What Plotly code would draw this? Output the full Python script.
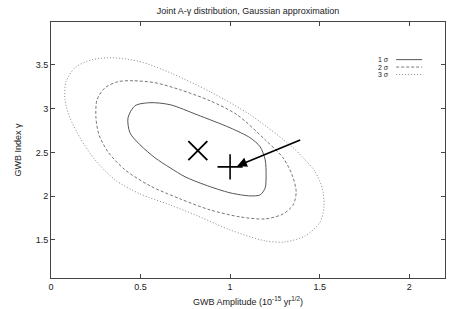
import plotly.graph_objects as go

# ---- data ----
sig1_x = [0.553, 0.665, 0.816, 1.000, 1.112, 1.168, 1.196, 1.201, 1.196, 1.168, 1.112, 1.000, 0.860, 0.749, 0.665, 0.581, 0.497, 0.441, 0.430, 0.469, 0.553]
sig1_y = [3.068, 3.045, 2.930, 2.781, 2.667, 2.564, 2.415, 2.244, 2.095, 2.015, 2.003, 2.038, 2.129, 2.221, 2.324, 2.438, 2.587, 2.724, 2.896, 3.033, 3.068]

sig2_x = [0.458, 0.581, 0.721, 0.888, 1.039, 1.196, 1.296, 1.346, 1.369, 1.352, 1.296, 1.196, 1.056, 0.888, 0.721, 0.553, 0.413, 0.318, 0.268, 0.251, 0.257, 0.302, 0.374, 0.458]
sig2_y = [3.319, 3.296, 3.216, 3.090, 2.930, 2.644, 2.438, 2.244, 2.049, 1.900, 1.797, 1.740, 1.763, 1.843, 1.969, 2.118, 2.301, 2.507, 2.701, 2.896, 3.102, 3.239, 3.308, 3.319]

sig3_x = [0.346, 0.497, 0.665, 0.888, 1.112, 1.346, 1.419, 1.475, 1.514, 1.525, 1.503, 1.419, 1.307, 1.196, 1.000, 0.832, 0.665, 0.497, 0.358, 0.246, 0.162, 0.106, 0.078, 0.084, 0.134, 0.229, 0.346]
sig3_y = [3.582, 3.537, 3.411, 3.193, 2.930, 2.564, 2.415, 2.278, 2.095, 1.900, 1.706, 1.546, 1.477, 1.489, 1.614, 1.763, 1.900, 2.026, 2.186, 2.415, 2.667, 2.896, 3.102, 3.308, 3.468, 3.559, 3.582]

max_like = (0.82, 2.52)       # "X" marker
true_val = (1.00, 2.335)      # "+" marker
arrow_from = (1.40, 2.65)
arrow_to = (1.04, 2.345)

legend_labels = ["1 σ", "2 σ", "3 σ"]
x_ticks = [0, 0.5, 1, 1.5, 2]
y_ticks = [1.5, 2, 2.5, 3, 3.5]

FONT = "Liberation Sans, Arial, sans-serif"
styles = [dict(color="#555555", width=1, dash="solid"),
          dict(color="#777777", width=1, dash="3px,2px"),
          dict(color="#888888", width=1, dash="1px,2px")]

fig = go.Figure()
for xs, ys, st, name in zip([sig1_x, sig2_x, sig3_x], [sig1_y, sig2_y, sig3_y], styles, legend_labels):
    fig.add_trace(go.Scatter(x=xs, y=ys, mode="lines", line=dict(shape="spline", smoothing=0.8, **st),
                             name=name, showlegend=False, hoverinfo="skip"))

fig.add_trace(go.Scatter(x=[max_like[0]], y=[max_like[1]], mode="markers", showlegend=False,
                         marker=dict(symbol="x-thin", size=19, line=dict(color="black", width=1.8))))
fig.add_trace(go.Scatter(x=[true_val[0]], y=[true_val[1]], mode="markers", showlegend=False,
                         marker=dict(symbol="cross-thin", size=18, line=dict(color="black", width=1.6))))

fig.add_annotation(x=arrow_to[0], y=arrow_to[1], ax=arrow_from[0], ay=arrow_from[1],
                   xref="x", yref="y", axref="x", ayref="y", text="", showarrow=True,
                   arrowhead=2, arrowsize=1.2, arrowwidth=1.6, arrowcolor="black")

# manual gnuplot-style key: text on the left, line sample on the right
rows_y = [0.853, 0.824, 0.795]
for lab, st, yy in zip(legend_labels, styles, rows_y):
    fig.add_annotation(x=0.862, y=yy, xref="paper", yref="paper", text=lab, showarrow=False,
                       xanchor="right", yanchor="middle", font=dict(family=FONT, size=7, color="#222222"))
    fig.add_shape(type="line", xref="paper", yref="paper", x0=0.876, x1=0.942, y0=yy, y1=yy,
                  line=dict(color=st["color"], width=1, dash=st["dash"]))

fig.update_layout(
    width=450, height=309,
    margin=dict(l=51, r=5, t=22, b=31),
    paper_bgcolor="white", plot_bgcolor="white",
    font=dict(family=FONT, size=9, color="#222222"),
    title=dict(text="Joint A-γ distribution, Gaussian approximation", x=0.551, xanchor="center",
               y=0.965, yanchor="middle", font=dict(family=FONT, size=9, color="#222222")),
    xaxis=dict(range=[0, 2.2], tickvals=x_ticks, ticktext=[str(v) for v in x_ticks],
               ticks="inside", ticklen=4, tickcolor="#444444", mirror="ticks", showline=True,
               linecolor="#444444", linewidth=1, showgrid=False, zeroline=False,
               tickfont=dict(size=9), title=dict(text="GWB Amplitude (10<sup>-15</sup> yr<sup>1/2</sup>)",
                                                 font=dict(size=9), standoff=7)),
    yaxis=dict(range=[1.065, 3.99], tickvals=y_ticks, ticktext=[str(v) for v in y_ticks],
               ticks="inside", ticklen=4, tickcolor="#444444", mirror="ticks", showline=True,
               linecolor="#444444", linewidth=1, showgrid=False, zeroline=False,
               tickfont=dict(size=9), title=dict(text="GWB Index γ", font=dict(size=9), standoff=12)),
)
fig.write_html("out.html", config={"displayModeBar": False},
               post_script="document.body.style.margin='0';document.body.style.overflow='hidden';")
